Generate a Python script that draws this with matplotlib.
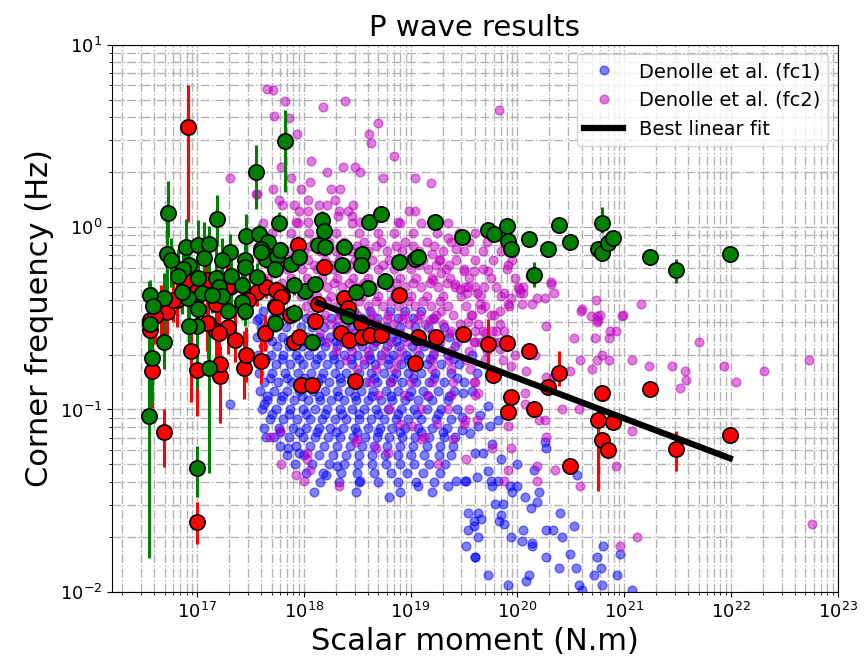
import numpy as np
import matplotlib
matplotlib.use("Agg")
import matplotlib.pyplot as plt

# Denolle et al. fc1 : dense core, one row per log10(fc) level, values are log10(M0)
fc1_rows_logfc = [-0.46, -0.50, -0.55, -0.60, -0.65, -0.70, -0.75, -0.80, -0.85, -0.90,
                  -0.95, -1.00, -1.05, -1.10, -1.15, -1.20, -1.25, -1.30, -1.35, -1.40,
                  -0.625, -0.725, -0.825, -0.925, -1.025, -1.125]
fc1_rows_logm0 = [
    [17.62, 17.78, 18.33, 18.47, 18.62, 18.81, 18.95, 19.1],
    [17.58, 17.71, 17.87, 18.02, 18.26, 18.4, 18.55, 18.69, 18.88, 19.02, 19.21],
    [17.6, 17.74, 17.83, 17.97, 18.08, 18.19, 18.31, 18.44, 18.53, 18.66, 18.77, 18.9, 19.04, 19.16, 19.31],
    [17.56, 17.67, 17.8, 17.92, 18.03, 18.14, 18.25, 18.37, 18.48, 18.6, 18.71, 18.83, 18.94, 19.07, 19.2, 19.36, 19.52],
    [17.62, 17.75, 17.86, 17.98, 18.1, 18.2, 18.31, 18.43, 18.55, 18.65, 18.78, 18.89, 19.01, 19.13, 19.26, 19.42],
    [17.57, 17.69, 17.81, 17.93, 18.05, 18.16, 18.27, 18.38, 18.5, 18.61, 18.72, 18.84, 18.96, 19.08, 19.21, 19.35, 19.58],
    [17.61, 17.74, 17.87, 17.99, 18.11, 18.22, 18.33, 18.45, 18.56, 18.67, 18.79, 18.91, 19.03, 19.15, 19.29, 19.45],
    [17.58, 17.7, 17.82, 17.95, 18.07, 18.18, 18.29, 18.4, 18.52, 18.63, 18.75, 18.86, 18.98, 19.1, 19.23, 19.38, 19.62],
    [17.63, 17.76, 17.89, 18.01, 18.13, 18.24, 18.35, 18.47, 18.58, 18.69, 18.81, 18.92, 19.05, 19.17, 19.31, 19.5],
    [17.59, 17.72, 17.84, 17.96, 18.09, 18.2, 18.31, 18.42, 18.54, 18.65, 18.77, 18.88, 19.0, 19.12, 19.26, 19.41, 19.58],
    [17.66, 17.79, 17.91, 18.04, 18.15, 18.26, 18.38, 18.49, 18.6, 18.72, 18.83, 18.95, 19.07, 19.2, 19.35],
    [17.61, 17.74, 17.87, 17.99, 18.11, 18.22, 18.34, 18.45, 18.56, 18.68, 18.79, 18.91, 19.03, 19.15, 19.29, 19.44],
    [17.68, 17.81, 17.94, 18.06, 18.17, 18.29, 18.4, 18.52, 18.63, 18.75, 18.86, 18.98, 19.1, 19.24, 19.38],
    [17.63, 17.77, 17.9, 18.02, 18.14, 18.25, 18.37, 18.48, 18.6, 18.71, 18.83, 18.95, 19.07, 19.2, 19.34],
    [17.72, 17.86, 17.99, 18.11, 18.23, 18.34, 18.46, 18.57, 18.69, 18.8, 18.92, 19.04, 19.17, 19.31, 19.42],
    [17.78, 17.93, 18.06, 18.19, 18.31, 18.43, 18.55, 18.66, 18.78, 18.9, 19.02, 19.15, 19.28, 19.4],
    [17.84, 18.0, 18.14, 18.27, 18.4, 18.52, 18.64, 18.76, 18.88, 19.0, 19.13, 19.27, 19.38],
    [17.92, 18.08, 18.24, 18.38, 18.51, 18.64, 18.77, 18.9, 19.03, 19.17, 19.32],
    [18.02, 18.18, 18.35, 18.5, 18.66, 18.82, 18.97, 19.12, 19.28],
    [18.15, 18.33, 18.52, 18.7, 18.88, 19.05, 19.22],
    [17.7, 17.85, 18.0, 18.16, 18.3, 18.5, 18.68, 18.86, 19.05, 19.25],
    [17.65, 17.8, 17.96, 18.12, 18.28, 18.44, 18.62, 18.8, 18.98, 19.18, 19.4],
    [17.68, 17.84, 18.0, 18.16, 18.34, 18.5, 18.66, 18.84, 19.02, 19.22, 19.44],
    [17.66, 17.8, 17.98, 18.14, 18.32, 18.48, 18.64, 18.82, 18.99, 19.16, 19.36],
    [17.7, 17.86, 18.02, 18.2, 18.36, 18.52, 18.7, 18.88, 19.06, 19.26],
    [17.78, 17.96, 18.12, 18.3, 18.5, 18.7, 18.9, 19.1, 19.3],
]
# fc1 scattered points (log10 M0, log10 fc)
fc1_extra = [
    (17.31, -0.97), (17.63, -0.97), (17.56, -0.51), (17.65, -1.15), (17.85, -1.21), (17.96, -1.24),
    (18.10, -1.45), (18.21, -1.36), (18.31, -1.31), (18.49, -1.45), (18.53, -1.39), (18.80, -1.48),
    (18.90, -1.45), (19.07, -1.42), (19.20, -1.45), (19.35, -1.42), (19.43, -1.39), (19.52, -1.39),
    (19.54, -1.57), (19.59, -1.61), (19.54, -1.66), (19.52, -1.75), (19.60, -1.81), (19.73, -1.91),
    (19.91, -1.96), (20.08, -1.94), (20.11, -1.91), (20.27, -1.81), (20.39, -1.87), (20.49, -1.79),
    (20.55, -1.87), (20.58, -1.96), (20.61, -1.99), (20.72, -1.91), (20.75, -1.81), (20.78, -1.87),
    (20.79, -1.96), (20.80, -1.75), (20.93, -1.91), (20.96, -1.79), (21.07, -1.99), (20.05, -1.66),
    (20.27, -1.66), (20.33, -1.66), (20.42, -1.70), (20.53, -1.64), (20.14, -1.73), (20.04, -1.72),
    (20.14, -1.75), (19.94, -1.70), (19.88, -1.63), (19.83, -1.61), (19.85, -1.58), (19.87, -1.52),
    (19.79, -1.52), (20.07, -1.48), (20.18, -1.51), (20.13, -1.54), (20.20, -1.45), (20.00, -1.42),
    (19.95, -1.45), (19.93, -1.42), (19.82, -1.39), (19.75, -1.39), (19.76, -1.42), (19.66, -1.60),
    (19.63, -1.57), (19.59, -1.64), (19.63, -1.70), (19.60, -1.81), (19.73, -1.34), (19.51, -1.39),
    (19.60, -1.24), (19.68, -1.24), (19.62, -1.37), (20.00, -1.30), (20.16, -1.33), (20.40, -1.57),
    (20.56, -1.36), (20.26, -1.18), (20.27, -1.21), (19.76, -1.19), (19.85, -1.27), (19.48, -1.11),
    (19.56, -1.13), (19.63, -1.09), (19.74, -1.09), (19.82, -1.06), (19.73, -0.98), (19.65, -1.03),
    (19.49, -0.91), (19.48, -1.04),
]

# Denolle et al. fc2 : dense core rows
fc2_rows_logfc = [0.02, -0.03, -0.08, -0.13, -0.18, -0.23, -0.28, -0.33, -0.38, -0.43, -0.48,
                  -0.53, -0.58, -0.63, -0.68, -0.73, -0.78, -0.85, -0.92, -1.00, -1.08, -1.16,
                  -0.105, -0.205, -0.305, -0.405, -0.505]
fc2_rows_logm0 = [
    [17.62, 17.95, 18.2, 18.45, 18.62, 18.9, 19.1, 19.35],
    [17.7, 17.88, 18.05, 18.3, 18.52, 18.7, 18.85, 19.02, 19.25, 19.45, 19.6],
    [17.62, 17.92, 18.1, 18.24, 18.38, 18.56, 18.72, 18.95, 19.15, 19.38, 19.55, 19.72],
    [17.68, 17.86, 18.0, 18.15, 18.3, 18.44, 18.6, 18.78, 18.92, 19.08, 19.3, 19.5, 19.68, 19.85],
    [17.6, 17.9, 18.04, 18.2, 18.33, 18.48, 18.64, 18.8, 18.97, 19.12, 19.27, 19.43, 19.6, 19.77, 19.95],
    [17.84, 17.98, 18.12, 18.27, 18.4, 18.55, 18.7, 18.85, 19.0, 19.16, 19.33, 19.5, 19.68, 19.9],
    [17.66, 17.88, 18.03, 18.17, 18.31, 18.46, 18.6, 18.75, 18.9, 19.05, 19.2, 19.37, 19.55, 19.75, 19.98],
    [17.93, 18.07, 18.22, 18.36, 18.5, 18.65, 18.8, 18.95, 19.1, 19.26, 19.42, 19.6, 19.8, 20.05],
    [17.72, 17.97, 18.12, 18.26, 18.4, 18.55, 18.7, 18.85, 19.0, 19.15, 19.3, 19.47, 19.65, 19.85],
    [18.02, 18.16, 18.3, 18.45, 18.6, 18.74, 18.89, 19.04, 19.19, 19.35, 19.52, 19.7, 19.92],
    [18.06, 18.2, 18.35, 18.5, 18.64, 18.79, 18.94, 19.09, 19.24, 19.4, 19.58, 19.78],
    [18.1, 18.25, 18.4, 18.54, 18.69, 18.84, 18.99, 19.14, 19.3, 19.46, 19.63, 19.84],
    [18.15, 18.3, 18.45, 18.6, 18.75, 18.9, 19.05, 19.2, 19.36, 19.52, 19.7],
    [18.22, 18.37, 18.52, 18.67, 18.82, 18.97, 19.12, 19.28, 19.44, 19.6, 19.78],
    [18.3, 18.45, 18.6, 18.76, 18.91, 19.06, 19.22, 19.38, 19.55, 19.72],
    [18.4, 18.56, 18.72, 18.88, 19.04, 19.2, 19.36, 19.52, 19.7],
    [18.5, 18.68, 18.85, 19.02, 19.2, 19.38, 19.56],
    [18.62, 18.82, 19.0, 19.2, 19.4, 19.6],
    [18.7, 18.95, 19.15, 19.38, 19.6],
    [18.8, 19.1, 19.35, 19.55],
    [18.9, 19.25, 19.5],
    [18.5, 19.1, 19.4],
    [17.78, 18.06, 18.34, 18.5, 18.68, 18.86, 19.02, 19.22],
    [17.76, 18.1, 18.26, 18.42, 18.58, 18.74, 18.92, 19.08, 19.24],
    [17.8, 18.12, 18.28, 18.42, 18.56, 18.72, 18.86, 19.02, 19.18, 19.34],
    [18.08, 18.22, 18.36, 18.52, 18.68, 18.82, 18.98, 19.12, 19.28],
    [18.16, 18.32, 18.46, 18.62, 18.78, 18.92, 19.06, 19.22],
]
fc2_extra = [
    (17.66, 0.76), (17.71, 0.75), (17.82, 0.69), (18.18, 0.66), (18.39, 0.69), (17.72, 0.61),
    (17.86, 0.60), (18.70, 0.57), (17.94, 0.51), (18.61, 0.51), (18.63, 0.46), (18.85, 0.39),
    (18.07, 0.36), (17.79, 0.33), (18.22, 0.30), (18.37, 0.33), (18.48, 0.33), (18.53, 0.30),
    (17.88, 0.27), (18.74, 0.27), (19.04, 0.27), (19.19, 0.24), (17.71, 0.21), (17.97, 0.21),
    (18.06, 0.25), (18.26, 0.21), (18.34, 0.21), (17.56, 0.18), (18.04, 0.15), (17.77, 0.15),
    (18.29, 0.15), (17.80, 0.12), (17.91, 0.12), (18.14, 0.12), (18.22, 0.12), (18.46, 0.12),
    (18.33, 0.09), (18.41, 0.09), (17.96, 0.09), (18.04, 0.09), (18.99, 0.09), (19.04, 0.09),
    (18.45, 0.06), (18.32, 0.06), (18.53, 0.03), (18.88, 0.03), (17.93, 0.03), (18.04, 0.03),
    (17.31, 0.27), (17.55, 0.18), (19.83, 0.64),
    (19.35, -0.06), (19.43, -0.12), (19.20, -0.15), (19.28, -0.18), (19.36, -0.21), (19.29, -0.25),
    (19.50, -0.24), (19.59, -0.24), (19.73, -0.24), (19.91, -0.21), (19.21, -0.29), (19.42, -0.31),
    (19.54, -0.33), (19.46, -0.34), (19.69, -0.33), (19.62, -0.36), (19.53, -0.36), (19.88, -0.36),
    (19.94, -0.39), (20.01, -0.33), (20.05, -0.36), (20.18, -0.39), (20.26, -0.39), (20.32, -0.31),
    (20.34, -0.36), (20.12, -0.27), (19.91, -0.42), (20.04, -0.42), (20.14, -0.42), (19.65, -0.42),
    (19.57, -0.48), (19.66, -0.45), (19.84, -0.46), (19.75, -0.48), (19.29, -0.46), (19.18, -0.51),
    (19.54, -0.52), (19.46, -0.57), (19.60, -0.57), (19.68, -0.57), (19.80, -0.57), (19.88, -0.57),
    (19.38, -0.57), (20.27, -0.54), (20.60, -0.46), (20.69, -0.49), (20.75, -0.49), (20.76, -0.51),
    (20.98, -0.49), (20.74, -0.40), (20.53, -0.61), (20.73, -0.61), (20.87, -0.57), (20.92, -0.57),
    (20.86, -0.61), (19.59, -0.63), (19.66, -0.63), (19.83, -0.63), (19.51, -0.33), (20.03, -0.36),
    (20.61, -0.45), (20.77, -0.48), (20.99, -0.48), (20.75, -0.52), (21.16, -0.42), (21.70, -0.63),
    (19.76, -0.57), (19.84, -0.67), (19.98, -0.70), (20.17, -0.70), (19.87, -0.73), (19.94, -0.76),
    (20.08, -0.79), (20.27, -0.82), (20.33, -0.82), (20.49, -0.79), (20.59, -0.73), (20.70, -0.78),
    (20.75, -0.73), (20.79, -0.70), (20.86, -0.73), (21.07, -0.73), (21.23, -0.76), (21.45, -0.76),
    (21.57, -0.79), (21.58, -0.84), (21.52, -0.88), (21.94, -0.76), (22.05, -0.85), (22.31, -0.79),
    (22.73, -0.73), (22.76, -1.63), (20.07, -0.97), (20.07, -0.91), (20.42, -1.00), (20.58, -1.00),
    (20.26, -1.06), (20.20, -1.06), (20.92, -1.31), (21.07, -1.12), (20.27, -1.15), (19.94, -1.21),
    (19.51, -1.06), (19.62, -1.06), (19.59, -0.85), (19.63, -0.91), (19.91, -1.09), (19.76, -1.21),
    (20.35, -1.33), (20.18, -1.39), (20.18, -1.31), (19.91, -1.33), (19.88, -1.39), (20.59, -1.42),
    (21.12, -1.70), (20.96, -1.75), (19.52, -1.27), (20.02, -0.34), (20.32, -0.30),
    (17.68, -1.15), (17.78, -1.12), (17.79, -1.30), (17.93, -1.36), (18.00, -1.39), (18.06, -1.33),
    (18.03, -1.27), (18.03, -1.24), (18.33, -1.42), (18.49, -1.18), (18.68, -1.21), (18.79, -1.24),
    (19.01, -1.09), (19.13, -1.15), (19.26, -1.30),
]

# this study: (log10 M0, log10 fc, log err below, log err above)
red_pts = [
    (16.92, 0.547, 0.52, 0.23), (17.95, -0.099, 0.05, 0.05), (18.19, -0.22, 0.03, 0.03),
    (18.89, -0.37, 0.03, 0.03), (16.56, -0.565, 0.20, 0.15), (16.58, -0.79, 0.20, 0.15),
    (16.69, -1.126, 0.19, 0.13), (17.00, -1.617, 0.12, 0.11), (16.94, -0.68, 0.28, 0.15),
    (17.00, -0.785, 0.25, 0.15), (17.22, -0.816, 0.26, 0.10), (17.22, -0.75, 0.10, 0.10),
    (17.44, -0.77, 0.17, 0.20), (17.46, -0.70, 0.15, 0.15), (17.60, -0.733, 0.12, 0.13),
    (17.36, -0.62, 0.12, 0.15), (17.64, -0.58, 0.10, 0.10), (17.73, -0.43, 0.05, 0.05),
    (17.91, -0.63, 0.05, 0.05), (17.96, -0.605, 0.05, 0.05), (17.97, -0.867, 0.04, 0.04),
    (18.08, -0.867, 0.04, 0.04), (18.11, -0.516, 0.04, 0.04), (18.13, -0.42, 0.04, 0.04),
    (18.35, -0.578, 0.04, 0.04), (18.42, -0.617, 0.04, 0.04), (18.48, -0.845, 0.05, 0.05),
    (18.54, -0.528, 0.04, 0.04), (18.55, -0.605, 0.04, 0.04), (18.62, -0.59, 0.04, 0.04),
    (18.72, -0.59, 0.04, 0.04), (19.04, -0.745, 0.04, 0.04), (19.07, -0.605, 0.03, 0.03),
    (19.24, -0.605, 0.03, 0.03), (19.49, -0.587, 0.03, 0.03), (18.38, -0.39, 0.04, 0.04),
    (18.41, -0.446, 0.04, 0.04), (16.66, -0.465, 0.20, 0.15), (16.72, -0.465, 0.15, 0.12),
    (16.56, -0.51, 0.12, 0.10), (16.81, -0.40, 0.15, 0.10), (17.10, -0.525, 0.20, 0.15),
    (17.18, -0.57, 0.18, 0.12), (17.29, -0.547, 0.15, 0.12), (17.21, -0.58, 0.20, 0.12),
    (17.56, -0.355, 0.08, 0.08), (17.65, -0.327, 0.06, 0.06), (17.77, -0.355, 0.05, 0.05),
    (17.80, -0.38, 0.05, 0.05), (17.87, -0.48, 0.05, 0.05), (17.31, -0.327, 0.10, 0.10),
    (16.90, -0.29, 0.12, 0.10), (17.09, -0.29, 0.15, 0.10), (17.28, -0.327, 0.12, 0.12),
    (17.74, -0.346, 0.05, 0.05), (17.79, -0.383, 0.05, 0.05), (17.74, -0.438, 0.05, 0.05),
    (16.61, -0.49, 0.15, 0.10), (16.78, -0.40, 0.12, 0.10), (17.09, -0.528, 0.15, 0.12),
    (17.48, -0.40, 0.08, 0.08), (17.00, -0.35, 0.10, 0.10), (17.18, -0.42, 0.10, 0.12),
    (19.73, -0.64, 0.20, 0.135), (19.90, -0.636, 0.03, 0.03), (20.11, -0.677, 0.03, 0.03),
    (19.77, -0.81, 0.03, 0.03), (19.94, -0.93, 0.03, 0.03), (19.91, -1.015, 0.03, 0.03),
    (20.16, -1.00, 0.03, 0.03), (20.29, -0.876, 0.03, 0.03), (20.39, -0.80, 0.07, 0.12),
    (20.49, -1.31, 0.03, 0.03), (20.79, -0.91, 0.03, 0.03), (20.76, -1.055, 0.39, 0.05),
    (20.79, -1.17, 0.03, 0.03), (20.85, -1.22, 0.03, 0.03), (20.90, -1.07, 0.03, 0.03),
    (21.24, -0.89, 0.03, 0.03), (21.49, -1.217, 0.12, 0.10), (21.99, -1.14, 0.03, 0.03),
]

green_pts = [
    (16.73, 0.075, 0.13, 0.18), (17.55, 0.30, 0.20, 0.15), (17.82, 0.47, 0.28, 0.17),
    (17.19, 0.044, 0.15, 0.13), (17.77, 0.024, 0.05, 0.06), (18.17, 0.04, 0.05, 0.05),
    (18.19, -0.02, 0.03, 0.03), (18.61, 0.026, 0.03, 0.03), (18.72, 0.073, 0.03, 0.03),
    (19.23, 0.026, 0.03, 0.03), (19.48, -0.056, 0.03, 0.03), (17.46, -0.048, 0.10, 0.12),
    (17.58, -0.035, 0.05, 0.05), (17.67, -0.084, 0.05, 0.05), (17.60, -0.12, 0.06, 0.05),
    (17.65, -0.175, 0.05, 0.04), (17.75, -0.16, 0.05, 0.05), (17.78, -0.126, 0.04, 0.04),
    (17.73, -0.23, 0.05, 0.05), (17.88, -0.20, 0.04, 0.04), (17.96, -0.166, 0.03, 0.03),
    (18.13, -0.10, 0.04, 0.06), (18.20, -0.11, 0.03, 0.03), (18.38, -0.108, 0.03, 0.03),
    (18.55, -0.148, 0.03, 0.03), (18.36, -0.21, 0.03, 0.03), (18.54, -0.205, 0.03, 0.03),
    (18.89, -0.194, 0.03, 0.03), (19.04, -0.174, 0.03, 0.03), (19.07, -0.163, 0.03, 0.03),
    (18.76, -0.295, 0.03, 0.03), (18.60, -0.336, 0.03, 0.03), (18.49, -0.358, 0.03, 0.03),
    (18.01, -0.35, 0.04, 0.04), (18.11, -0.31, 0.04, 0.04), (17.91, -0.32, 0.05, 0.04),
    (17.56, -0.276, 0.05, 0.08), (16.90, -0.108, 0.12, 0.15), (17.01, -0.099, 0.12, 0.14),
    (17.11, -0.093, 0.20, 0.10), (17.31, -0.135, 0.15, 0.10), (17.23, -0.18, 0.10, 0.12),
    (17.07, -0.172, 0.15, 0.20), (16.93, -0.208, 0.12, 0.12), (16.87, -0.232, 0.10, 0.10),
    (16.72, -0.148, 0.25, 0.18), (16.76, -0.18, 0.15, 0.12), (16.82, -0.27, 0.10, 0.15),
    (17.01, -0.28, 0.12, 0.20), (17.18, -0.28, 0.15, 0.22), (17.32, -0.27, 0.20, 0.15),
    (17.42, -0.32, 0.12, 0.17), (17.21, -0.33, 0.10, 0.10), (17.05, -0.36, 0.10, 0.10),
    (16.92, -0.39, 0.15, 0.12), (16.69, -0.39, 0.10, 0.14), (16.56, -0.37, 0.08, 0.08),
    (16.59, -0.43, 0.10, 0.10), (17.42, -0.41, 0.10, 0.12), (17.23, -0.38, 0.10, 0.10),
    (17.01, -0.45, 0.12, 0.10), (17.29, -0.46, 0.10, 0.12), (17.45, -0.46, 0.08, 0.10),
    (16.56, -0.53, 0.10, 0.10), (16.69, -0.63, 0.15, 0.20), (16.58, -0.72, 0.25, 0.18),
    (17.00, -0.54, 0.35, 0.20), (16.93, -0.54, 0.10, 0.15), (17.11, -0.77, 0.58, 0.22),
    (16.55, -1.035, 0.78, 0.74), (17.00, -1.32, 0.16, 0.12), (17.73, -0.525, 0.05, 0.05),
    (17.91, -0.47, 0.05, 0.05), (18.08, -0.63, 0.05, 0.05), (18.41, -0.49, 0.05, 0.05),
    (19.73, -0.016, 0.02, 0.02), (19.78, -0.035, 0.02, 0.02), (19.90, 0.007, 0.02, 0.02),
    (19.91, -0.075, 0.02, 0.02), (19.94, -0.12, 0.02, 0.02), (20.11, -0.064, 0.02, 0.02),
    (20.16, -0.26, 0.07, 0.07), (20.29, -0.12, 0.02, 0.02), (20.39, 0.01, 0.02, 0.02),
    (20.49, -0.082, 0.02, 0.02), (20.79, 0.02, 0.05, 0.09), (20.76, -0.12, 0.02, 0.02),
    (20.79, -0.14, 0.02, 0.02), (20.85, -0.086, 0.02, 0.02), (20.90, -0.06, 0.02, 0.02),
    (21.24, -0.165, 0.02, 0.02), (21.49, -0.236, 0.07, 0.06), (21.99, -0.148, 0.02, 0.02),
    (17.45, -0.18, 0.10, 0.10), (17.45, -0.22, 0.08, 0.08), (16.86, -0.355, 0.12, 0.12),
    (17.14, -0.37, 0.10, 0.10), (17.60, -0.135, 0.05, 0.05),
]

# best linear fit (end points)
fit_m0 = [1.35e18, 9.8e21]
fit_fc = [0.385, 0.054]


def unpack_rows(rows_logfc, rows_logm0, extra):
    lm = [m for fc, row in zip(rows_logfc, rows_logm0) for m in row]
    lf = [fc for fc, row in zip(rows_logfc, rows_logm0) for m in row]
    lm += [p[0] for p in extra]
    lf += [p[1] for p in extra]
    return 10 ** np.array(lm), 10 ** np.array(lf)


def unpack_err(pts):
    a = np.array(pts)
    m0 = 10 ** a[:, 0]
    fc = 10 ** a[:, 1]
    lo = fc - fc * 10 ** (-a[:, 2])
    hi = fc * 10 ** a[:, 3] - fc
    return m0, fc, [lo, hi]


m0_1, fc_1 = unpack_rows(fc1_rows_logfc, fc1_rows_logm0, fc1_extra)
m0_2, fc_2 = unpack_rows(fc2_rows_logfc, fc2_rows_logm0, fc2_extra)
m0_r, fc_r, err_r = unpack_err(red_pts)
m0_g, fc_g, err_g = unpack_err(green_pts)

#PLOTTING______________________________________________
fig = plt.figure(figsize=(8.68, 6.68), dpi=100)
ax = fig.add_axes([0.129, 0.114, 0.836, 0.819])

ax.plot(m0_1, fc_1, 'o', color='b', alpha=0.5, ms=6.3, label='Denolle et al. (fc1)', zorder=2)
ax.plot(m0_2, fc_2, 'o', color='m', alpha=0.5, ms=6.3, label='Denolle et al. (fc2)', zorder=2)

ax.errorbar(m0_r, fc_r, yerr=err_r, fmt='o', color='r', ecolor='r', elinewidth=2.2,
            ms=11, mec='k', mew=1.2, capsize=0, zorder=3)
ax.errorbar(m0_g, fc_g, yerr=err_g, fmt='o', color='g', ecolor='g', elinewidth=2.2,
            ms=11, mec='k', mew=1.2, capsize=0, zorder=3)

ax.plot(fit_m0, fit_fc, 'k-', lw=4.5, label='Best linear fit', zorder=4)

ax.set_xscale('log')
ax.set_yscale('log')
ax.set_xlim(1.6e16, 1e23)
ax.set_ylim(1e-2, 1e1)
ax.grid(True, which='both', linestyle='-.', color='0.7', lw=1)
ax.set_axisbelow(True)
ax.tick_params(labelsize=13)

ax.set_title('P wave results', fontsize=21)
ax.set_xlabel('Scalar moment (N.m)', fontsize=22)
ax.set_ylabel('Corner frequency (Hz)', fontsize=22)
ax.legend(loc='upper right', fontsize=14)

fig.savefig('out.png', dpi=100)
